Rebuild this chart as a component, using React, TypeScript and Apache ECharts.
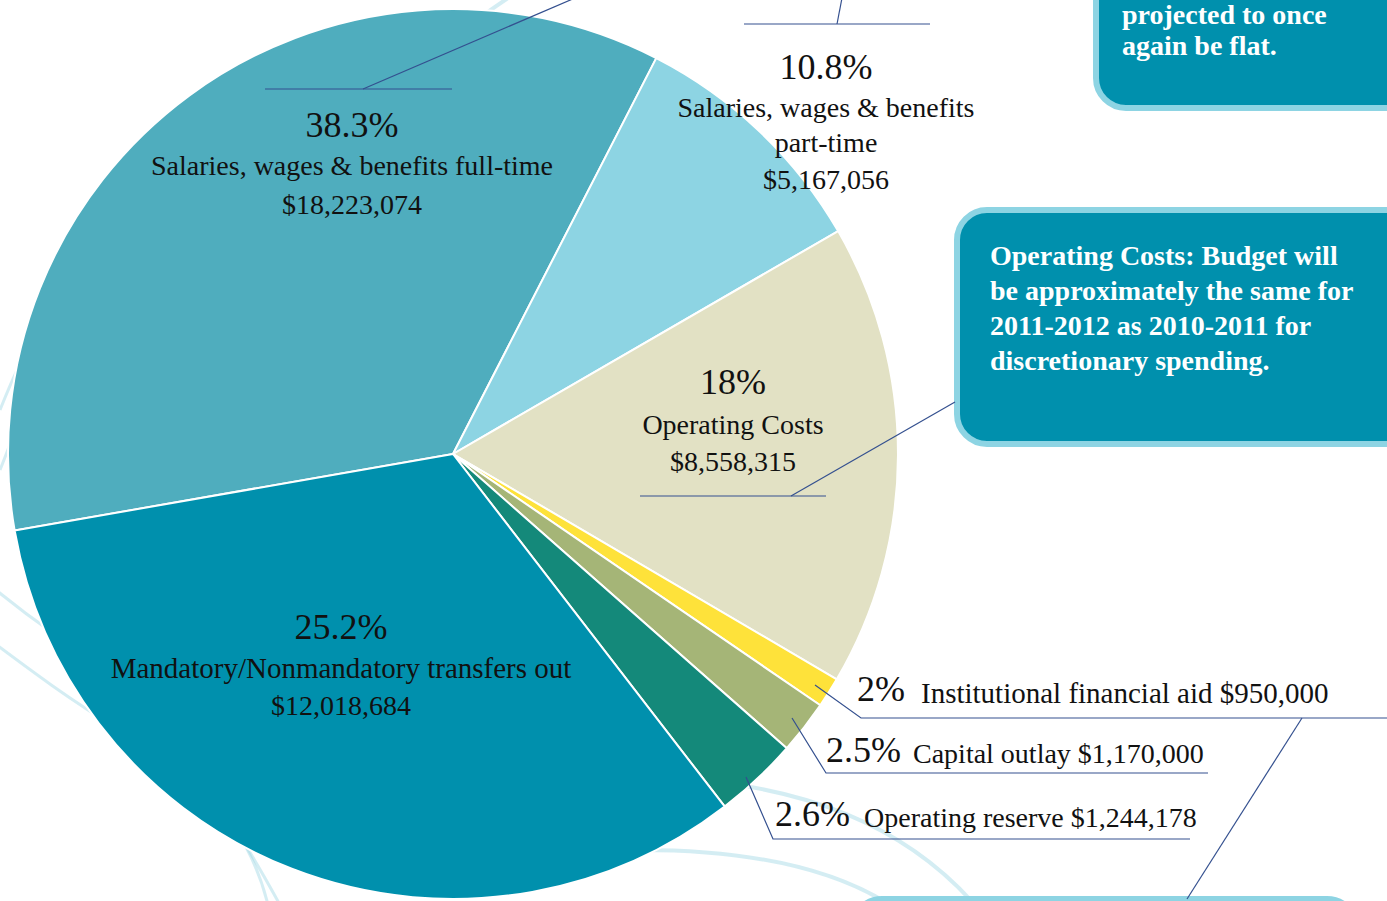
import React, { useEffect, useRef } from "react";
import * as echarts from "echarts";

// ---- data ----
const categories = [
  "Salaries, wages & benefits full-time",
  "Salaries, wages & benefits part-time",
  "Operating Costs",
  "Institutional financial aid",
  "Capital outlay",
  "Operating reserve",
  "Mandatory/Nonmandatory transfers out",
];
const percentLabels = ["38.3%", "10.8%", "18%", "2%", "2.5%", "2.6%", "25.2%"];
const amountLabels = [
  "$18,223,074",
  "$5,167,056",
  "$8,558,315",
  "$950,000",
  "$1,170,000",
  "$1,244,178",
  "$12,018,684",
];
// angular share of each slice as drawn in the picture (percent of the circle)
const sliceShares = [35.3, 9.1, 16.8, 1.1, 1.95, 3.05, 32.7];
const sliceColors = ["#4fadbe", "#8dd4e3", "#e2e1c4", "#fee23a", "#a5b577", "#14897a", "#0090ad"];

const boxOperatingLines = [
  "Operating Costs: Budget will",
  "be approximately the same for",
  "2011-2012 as 2010-2011 for",
  "discretionary spending.",
];
const boxTopLines = ["projected to once", "again be flat."];

const SERIF = '"Liberation Serif", "DejaVu Serif", serif';
const LINE = "#34508f";
const BOX_FILL = "#0090ad";
const BOX_BORDER = "#8dd4e3";
const SWIRL = "rgba(160, 214, 228, 0.45)";

function txt(text: string, x: number, y: number, size: number, align = "center", color = "#111", weight = "normal") {
  return {
    type: "text",
    z: 20,
    silent: true,
    style: {
      text,
      x,
      y,
      fill: color,
      font: `${weight} ${size}px ${SERIF}`,
      textAlign: align,
      textVerticalAlign: "middle",
    },
  };
}
function seg(pts: number[][]) {
  return {
    type: "polyline",
    z: 20,
    silent: true,
    shape: { points: pts },
    style: { stroke: LINE, lineWidth: 1.2, fill: null },
  };
}
function swirl(x1: number, y1: number, cpx1: number, cpy1: number, cpx2: number, cpy2: number, x2: number, y2: number, w = 4) {
  return {
    type: "bezierCurve",
    z: 0,
    silent: true,
    shape: { x1, y1, cpx1, cpy1, cpx2, cpy2, x2, y2 },
    style: { stroke: SWIRL, lineWidth: w, fill: null },
  };
}

export default function App() {
  const ref = useRef<HTMLDivElement>(null);
  useEffect(() => {
    document.body.style.margin = "0";
    const chart = echarts.init(ref.current as HTMLDivElement, null, { renderer: "svg" });

    const PCT = 36;
    const TXT = 28;
    const graphics: any[] = [
      // background swirls
      swirl(430, 60, 460, 30, 490, 10, 520, -10),
      swirl(0, 410, 10, 385, 20, 360, 40, 330, 3),
      swirl(0, 470, 8, 450, 15, 430, 25, 410, 3),
      swirl(-10, 585, 20, 610, 60, 640, 110, 670, 3),
      swirl(-10, 640, 30, 670, 70, 700, 120, 730, 3),
      swirl(180, 760, 220, 800, 250, 850, 280, 905, 3),
      swirl(230, 820, 250, 850, 262, 880, 268, 905, 3),
      swirl(700, 780, 800, 790, 900, 820, 975, 905, 4),
      swirl(640, 850, 720, 850, 820, 860, 890, 905, 4),
      // callout boxes
      {
        type: "rect",
        z: 5,
        silent: true,
        shape: { x: 1096, y: -60, width: 340, height: 168, r: 30 },
        style: { fill: BOX_FILL, stroke: BOX_BORDER, lineWidth: 6 },
      },
      {
        type: "rect",
        z: 5,
        silent: true,
        shape: { x: 957, y: 210, width: 480, height: 234, r: 30 },
        style: { fill: BOX_FILL, stroke: BOX_BORDER, lineWidth: 6 },
      },
      {
        type: "rect",
        z: 5,
        silent: true,
        shape: { x: 852, y: 899, width: 505, height: 120, r: 30 },
        style: { fill: BOX_FILL, stroke: BOX_BORDER, lineWidth: 6 },
      },
      // leader lines
      seg([[265, 89], [452, 89]]),
      seg([[363, 89], [575, -2]]),
      seg([[744, 24], [930, 24]]),
      seg([[837, 24], [842, -2]]),
      seg([[640, 496], [826, 496]]),
      seg([[791, 496], [955, 402]]),
      seg([[815, 685], [861, 718], [1387, 718]]),
      seg([[1302, 718], [1187, 899]]),
      seg([[792, 718], [826, 773], [1208, 773]]),
      seg([[746, 777], [773, 839], [1190, 839]]),
    ];

    // slice labels inside the pie (stacked, centered)
    graphics.push(txt(percentLabels[0], 352, 125, PCT));
    graphics.push(txt(categories[0], 352, 165, TXT));
    graphics.push(txt(amountLabels[0], 352, 204, TXT));

    graphics.push(txt(percentLabels[1], 826, 67, PCT));
    graphics.push(txt("Salaries, wages & benefits", 826, 107, TXT));
    graphics.push(txt("part-time", 826, 142, TXT));
    graphics.push(txt(amountLabels[1], 826, 179, TXT));

    graphics.push(txt(percentLabels[2], 733, 382, PCT));
    graphics.push(txt(categories[2], 733, 424, TXT));
    graphics.push(txt(amountLabels[2], 733, 461, TXT));

    graphics.push(txt(percentLabels[6], 341, 627, PCT));
    graphics.push(txt(categories[6], 341, 668, 29));
    graphics.push(txt(amountLabels[6], 341, 705, TXT));

    // small slices: outside labels
    graphics.push(txt(percentLabels[3], 857, 689, PCT, "left"));
    graphics.push(txt(`${categories[3]} ${amountLabels[3]}`, 921, 693, 29, "left"));
    graphics.push(txt(percentLabels[4], 826, 750, PCT, "left"));
    graphics.push(txt(`${categories[4]} ${amountLabels[4]}`, 913, 753, TXT, "left"));
    graphics.push(txt(percentLabels[5], 775, 814, PCT, "left"));
    graphics.push(txt(`${categories[5]} ${amountLabels[5]}`, 864, 817, TXT, "left"));

    // callout box texts
    boxTopLines.forEach((l, i) => graphics.push(txt(l, 1122, 14 + i * 31, TXT, "left", "#ffffff", "bold")));
    boxOperatingLines.forEach((l, i) => graphics.push(txt(l, 990, 255 + i * 35, TXT, "left", "#ffffff", "bold")));

    chart.setOption({
      animation: false,
      backgroundColor: "#ffffff",
      graphic: { elements: graphics },
      series: [
        {
          type: "pie",
          silent: true,
          center: [453, 454],
          radius: [0, 445],
          startAngle: 189.9,
          clockwise: true,
          avoidLabelOverlap: false,
          label: { show: false },
          labelLine: { show: false },
          emphasis: { disabled: true },
          itemStyle: { borderColor: "#ffffff", borderWidth: 2 },
          data: categories.map((name, i) => ({
            name,
            value: sliceShares[i],
            itemStyle: { color: sliceColors[i] },
          })),
        },
      ],
    });
    return () => chart.dispose();
  }, []);
  return <div ref={ref} style={{ width: 1387, height: 901 }} />;
}
